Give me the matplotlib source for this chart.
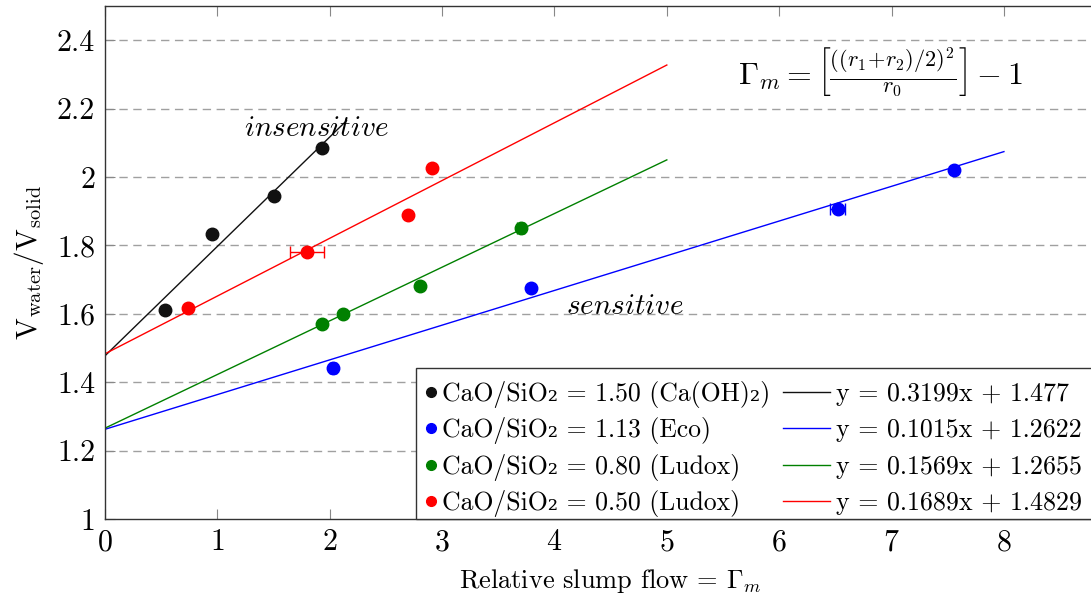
import numpy as np
import matplotlib
matplotlib.use("Agg")
import matplotlib.pyplot as plt
from matplotlib.patches import Rectangle

plt.rcParams["font.family"] = ["cmr10", "DejaVu Serif"]
plt.rcParams["mathtext.fontset"] = "cm"
plt.rcParams["axes.unicode_minus"] = False
plt.rcParams["axes.formatter.use_mathtext"] = True

# data
series_labels = [
    "CaO/SiO\u2082 = 1.50 (Ca(OH)\u2082)",
    "CaO/SiO\u2082 = 1.13 (Eco)",
    "CaO/SiO\u2082 = 0.80 (Ludox)",
    "CaO/SiO\u2082 = 0.50 (Ludox)",
]
colors = ["#111111", "blue", "green", "red"]

x_caoh = [0.53, 0.95, 1.50, 1.93]
y_caoh = [1.61, 1.832, 1.943, 2.084]
xerr_caoh = [0, 0, 0, 0]

x_eco = [2.03, 3.79, 6.52, 7.56]
y_eco = [1.442, 1.674, 1.905, 2.019]
xerr_eco = [0.03, 0, 0.07, 0]

x_lud80 = [1.93, 2.12, 2.80, 3.70]
y_lud80 = [1.571, 1.600, 1.682, 1.852]
xerr_lud80 = [0, 0, 0, 0.03]

x_lud50 = [0.74, 1.80, 2.70, 2.91]
y_lud50 = [1.618, 1.782, 1.888, 2.025]
xerr_lud50 = [0, 0.15, 0, 0]

slopes = [0.3199, 0.1015, 0.1569, 0.1689]
intercepts = [1.477, 1.2622, 1.2655, 1.4829]
fit_xmax = [2.15, 8.0, 5.0, 5.0]
fit_labels = [
    "y = 0.3199x + 1.477",
    "y = 0.1015x + 1.2622",
    "y = 0.1569x + 1.2655",
    "y = 0.1689x + 1.4829",
]

xs = [x_caoh, x_eco, x_lud80, x_lud50]
ys = [y_caoh, y_eco, y_lud80, y_lud50]
xerrs = [xerr_caoh, xerr_eco, xerr_lud80, xerr_lud50]

fig = plt.figure(figsize=(10.91, 5.99), dpi=100)
ax = fig.add_axes([0.0962, 0.1336, 0.927, 0.8564])

for yv in np.arange(1.2, 2.5, 0.2):
    ax.axhline(yv, color="#a0a0a0", lw=1.0, ls=(0, (6, 4)), zorder=0)

# fits
for m, b, xm, c in zip(slopes, intercepts, fit_xmax, colors):
    xx = np.array([0, xm])
    ax.plot(xx, m * xx + b, color=c, lw=1.0, zorder=2)

# points with error bars
for x, y, xe, c in zip(xs, ys, xerrs, colors):
    ax.errorbar(x, y, xerr=xe, fmt="o", color=c, ms=9, ecolor=c,
                elinewidth=1.0, capsize=4, capthick=1.0, zorder=3)

ax.text(1.24, 2.12, r"$insensitive$", fontsize=21)
ax.text(4.1, 1.6, r"$sensitive$", fontsize=21)
ax.text(6.9, 2.306,
        r"$\Gamma_m = \left[\frac{((r_1\!+\!r_2)/2)^2}{r_0}\right] - 1$",
        fontsize=23, ha="center", va="center")

ax.set_xlim(0, 9)
ax.set_ylim(1, 2.5)
ax.set_xticks(range(0, 9))
ax.set_yticks([1, 1.2, 1.4, 1.6, 1.8, 2, 2.2, 2.4])
ax.set_yticklabels(["1", "1.2", "1.4", "1.6", "1.8", "2", "2.2", "2.4"])
ax.tick_params(direction="in", length=7, width=0.8, color="#888888",
               labelsize=21.5, top=True, right=True, pad=7)
for s in ax.spines.values():
    s.set_color("#333333")
    s.set_linewidth(1.0)

ax.set_xlabel(r"Relative slump flow = $\Gamma_m$", fontsize=19, labelpad=8)
ax.set_ylabel(r"$\mathrm{V}_{\mathrm{water}}/\mathrm{V}_{\mathrm{solid}}$",
              fontsize=21, labelpad=8)

# legend table: two columns (points, fits) with rows kept in line
tr = ax.transAxes
ax.add_patch(Rectangle((0.3075, 0.0), 0.75, 0.2943, transform=tr,
                       facecolor="white", edgecolor="#333333", lw=1.0,
                       zorder=5, clip_on=False))
row_y = [0.2476, 0.1774, 0.1053, 0.0351]
for i in range(4):
    yr = row_y[i]
    ax.plot([0.3223], [yr], "o", color=colors[i], ms=7, transform=tr,
            zorder=6, clip_on=False)
    ax.text(0.3332, yr - 0.0175, series_labels[i], fontsize=18.5,
            va="baseline", transform=tr, zorder=6)
    ax.plot([0.6700, 0.7168], [yr, yr], color=colors[i], lw=1.0,
            transform=tr, zorder=6, clip_on=False)
    ax.text(0.7228, yr - 0.0175, fit_labels[i], fontsize=18.7,
            va="baseline", transform=tr, zorder=6)

fig.savefig("out.png", dpi=100)
